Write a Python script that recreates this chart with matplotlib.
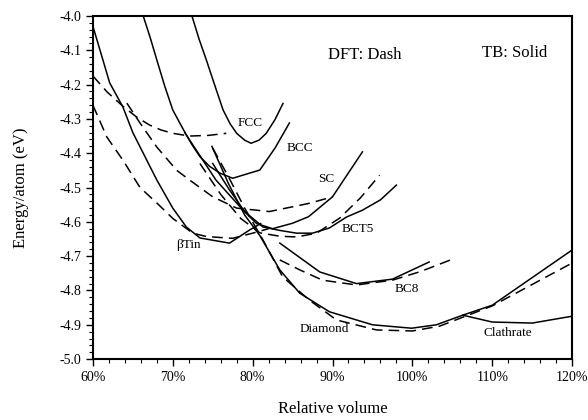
import matplotlib
matplotlib.use("Agg")
import matplotlib.pyplot as plt
from matplotlib.ticker import MultipleLocator, FuncFormatter

plt.rcParams['font.family'] = ['Liberation Serif', 'DejaVu Serif']

# relative volume (%) / energy per atom (eV), TB = solid, DFT = dashed
fcc_tb_v = [72.4, 73.3, 74.2, 75.3, 76.3, 77.2, 78.0, 79.0, 79.8, 80.8, 81.7, 82.8, 83.8]
fcc_tb_e = [-4.0, -4.068, -4.128, -4.205, -4.274, -4.315, -4.342, -4.362, -4.371, -4.362, -4.342, -4.302, -4.255]
fcc_dft_v = [60.0, 61.8, 63.8, 65.5, 67.1, 68.5, 70.0, 72.1, 74.5, 76.7]
fcc_dft_e = [-4.175, -4.222, -4.264, -4.295, -4.318, -4.332, -4.342, -4.35, -4.348, -4.342]

bcc_tb_v = [66.3, 67.2, 68.0, 69.0, 70.0, 71.3, 72.4, 73.4, 74.6, 75.9, 77.5, 80.9, 82.8, 84.6]
bcc_tb_e = [-4.0, -4.065, -4.128, -4.205, -4.274, -4.33, -4.375, -4.41, -4.438, -4.458, -4.473, -4.449, -4.385, -4.312]

sc_tb_v = [71.5, 75.4, 78.8, 80.5, 82.5, 85.0, 87.0, 90.0, 93.75]
sc_tb_e = [-4.34, -4.478, -4.566, -4.605, -4.62, -4.604, -4.585, -4.527, -4.396]
sc_dft_v = [64.25, 65.9, 68.0, 70.5, 72.1, 75.0, 78.0, 82.1, 87.1, 90.0]
sc_dft_e = [-4.254, -4.312, -4.382, -4.45, -4.478, -4.527, -4.56, -4.57, -4.546, -4.527]

bct5_tb_v = [75.0, 77.1, 79.0, 81.3, 83.4, 85.5, 87.5, 89.6, 91.75, 93.75, 96.0, 98.0]
bct5_tb_e = [-4.43, -4.507, -4.57, -4.615, -4.625, -4.633, -4.633, -4.618, -4.586, -4.566, -4.536, -4.493]
bct5_dft_v = [73.4, 76.0, 78.5, 80.9, 83.4, 85.5, 88.0, 90.9, 93.5, 95.9]
bct5_dft_e = [-4.43, -4.52, -4.59, -4.632, -4.642, -4.644, -4.633, -4.589, -4.53, -4.464]

btin_tb_v = [60.0, 61.25, 62.1, 63.75, 65.0, 68.0, 70.0, 71.7, 73.4, 77.1, 79.6, 81.0]
btin_tb_e = [-4.03, -4.128, -4.195, -4.265, -4.34, -4.478, -4.56, -4.615, -4.647, -4.662, -4.624, -4.605]
btin_dft_v = [60.0, 61.75, 63.75, 65.9, 68.0, 70.0, 72.5, 74.25, 77.5, 80.0, 82.0]
btin_dft_e = [-4.26, -4.353, -4.42, -4.5, -4.545, -4.59, -4.633, -4.643, -4.648, -4.633, -4.62]

bc8_tb_v = [83.4, 88.4, 93.0, 97.5, 102.1]
bc8_tb_e = [-4.662, -4.746, -4.78, -4.767, -4.717]
bc8_dft_v = [83.4, 85.9, 88.75, 93.0, 97.5, 101.0, 105.0]
bc8_dft_e = [-4.711, -4.74, -4.77, -4.784, -4.77, -4.745, -4.709]

dia_tb_v = [74.9, 77.0, 79.0, 80.9, 83.4, 85.9, 89.6, 95.0, 99.9, 103.0, 106.3, 110.0, 120.0]
dia_tb_e = [-4.38, -4.49, -4.58, -4.64, -4.74, -4.808, -4.862, -4.9, -4.91, -4.9, -4.872, -4.843, -4.682]
dia_dft_v = [75.0, 77.0, 79.0, 81.3, 83.75, 87.1, 90.5, 95.5, 100.0, 103.4, 110.0, 120.0]
dia_dft_e = [-4.385, -4.47, -4.56, -4.653, -4.76, -4.828, -4.886, -4.915, -4.918, -4.904, -4.845, -4.72]

clath_tb_v = [106.3, 110.0, 115.0, 120.0]
clath_tb_e = [-4.872, -4.892, -4.895, -4.875]

labels = ["FCC", "BCC", "SC", "BCT5", "\u03b2Tin", "BC8", "Diamond", "Clathrate"]
label_v = [79.75, 85.9, 89.25, 93.1, 72.0, 99.25, 89.0, 111.9]
label_e = [-4.312, -4.385, -4.475, -4.621, -4.668, -4.796, -4.913, -4.924]

fig = plt.figure(figsize=(5.88, 4.2), dpi=100)
ax = fig.add_axes([0.158, 0.145, 0.815, 0.817])

solid = dict(color="black", lw=1.1)
dash = dict(color="black", lw=1.1, dashes=(7, 4))

ax.plot(fcc_tb_v, fcc_tb_e, **solid)
ax.plot(fcc_dft_v, fcc_dft_e, **dash)
ax.plot(bcc_tb_v, bcc_tb_e, **solid)
ax.plot(sc_tb_v, sc_tb_e, **solid)
ax.plot(sc_dft_v, sc_dft_e, **dash)
ax.plot(bct5_tb_v, bct5_tb_e, **solid)
ax.plot(bct5_dft_v, bct5_dft_e, **dash)
ax.plot(btin_tb_v, btin_tb_e, **solid)
ax.plot(btin_dft_v, btin_dft_e, **dash)
ax.plot(bc8_tb_v, bc8_tb_e, **solid)
ax.plot(bc8_dft_v, bc8_dft_e, **dash)
ax.plot(dia_tb_v, dia_tb_e, **solid)
ax.plot(dia_dft_v, dia_dft_e, **dash)
ax.plot(clath_tb_v, clath_tb_e, **solid)

for t, v, e in zip(labels, label_v, label_e):
    ax.text(v, e, t, fontsize=9.5, ha="center", va="center")

ax.text(94.0, -4.114, "DFT: Dash", fontsize=12, ha="center", va="center")
ax.text(112.75, -4.108, "TB: Solid", fontsize=12, ha="center", va="center")

ax.set_xlim(60, 120)
ax.set_ylim(-5.0, -4.0)
ax.xaxis.set_major_locator(MultipleLocator(10))
ax.xaxis.set_minor_locator(MultipleLocator(2))
ax.yaxis.set_major_locator(MultipleLocator(0.1))
ax.yaxis.set_minor_locator(MultipleLocator(0.02))
ax.xaxis.set_major_formatter(FuncFormatter(lambda x, p: f"{x:.0f}%"))
ax.yaxis.set_major_formatter(FuncFormatter(lambda y, p: f"{y:.1f}"))
ax.tick_params(which="major", direction="out", length=5, width=1, labelsize=10, top=False, right=False)
ax.tick_params(which="minor", direction="out", length=3, width=0.8, top=False, right=False)
for s in ax.spines.values():
    s.set_linewidth(1.5)

ax.set_xlabel("Relative volume", fontsize=12, labelpad=12)
ax.set_ylabel("Energy/atom (eV)", fontsize=12, labelpad=22)

fig.savefig("out.png", dpi=100)
